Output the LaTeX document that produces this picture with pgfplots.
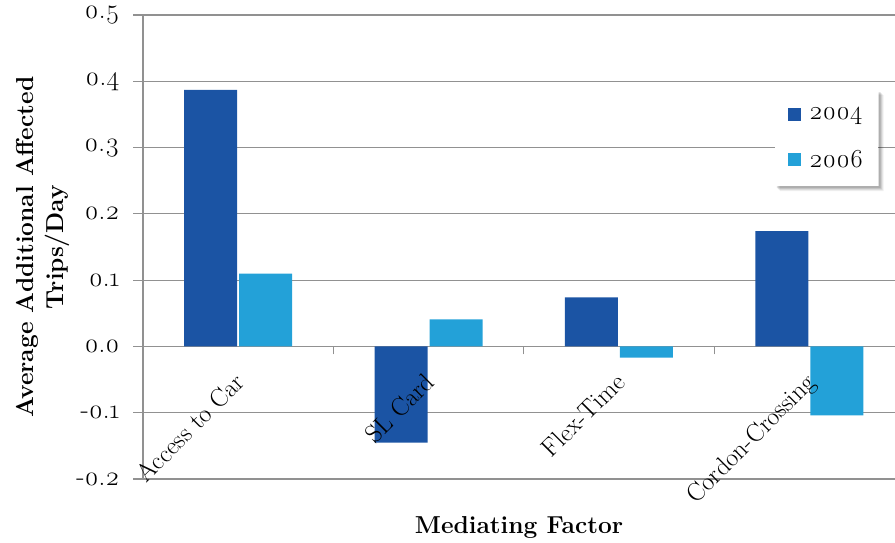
\documentclass[border=0pt]{standalone}
\usepackage{fontspec}
\setmainfont{Latin Modern Roman}[Numbers=OldStyle]
\usepackage{pgfplots}
\pgfplotsset{compat=1.18}

\definecolor{bar04}{RGB}{27,84,164}
\definecolor{bar06}{RGB}{35,161,216}
\definecolor{gridgray}{RGB}{145,145,145}

% category names are written over the bars
\pgfplotsset{
  layers/labels above bars/.define layer set={
    axis background,axis grid,axis ticks,axis lines,main,
    axis tick labels,axis descriptions,axis foreground
  }{
    grid style={/pgfplots/on layer=axis grid},
    tick style={/pgfplots/on layer=axis ticks},
    axis line style={/pgfplots/on layer=axis lines},
    label style={/pgfplots/on layer=axis descriptions},
    legend style={/pgfplots/on layer=axis descriptions},
    title style={/pgfplots/on layer=axis descriptions},
    ticklabel style={/pgfplots/on layer=axis tick labels},
    axis background@ style={/pgfplots/on layer=axis background},
    3d box foreground style={/pgfplots/on layer=axis foreground},
  },
}

\begin{document}
\begin{tikzpicture}
\begin{axis}[
  set layers=labels above bars,
  at={(143pt,63pt)}, anchor=south west,
  scale only axis, width=752pt, height=464pt,
  ybar=2pt, bar width=53pt,
  xmin=-0.5, xmax=3.45, ymin=-0.2, ymax=0.5,
  axis y line*=left, axis x line*=middle,
  axis line style={gridgray, line width=1.5pt},
  ytick={-0.2,-0.1,0,0.1,0.2,0.3,0.4,0.5},
  /pgf/number format/fixed, /pgf/number format/fixed zerofill,
  /pgf/number format/precision=1, /pgf/number format/assume math mode=true,
  yticklabel style={font=\fontsize{27}{27}\selectfont, xshift=-10pt, inner ysep=0pt},
  ymajorgrids, grid style={gridgray, line width=1.2pt},
  ytick align=outside, xtick align=outside,
  major tick length=10pt, minor tick length=8pt,
  tick style={gridgray, line width=1.2pt},
  xtick={0,1,2,3},
  xticklabels={Access to Car, SL Card, Flex-Time, Cordon-Crossing},
  major x tick style={draw=none},
  minor xtick={-0.5,0.5,1.5,2.5},
  xticklabel style={font=\fontsize{25.5}{25.5}\selectfont, xshift=-5pt, yshift=-10pt, rotate=45, anchor=north east},
  ylabel={Average Additional Affected\\Trips/Day},
  ylabel style={font=\bfseries\fontsize{24.5}{30}\selectfont, align=center,
    at={(axis description cs:-0.093,0.5)}, anchor=south},
  xlabel={Mediating Factor},
  xlabel style={font=\bfseries\fontsize{24.5}{30}\selectfont,
    at={(axis description cs:0.5,-0.1164)}, anchor=base},
  legend style={name=leg, at={(0.8404,0.838)}, anchor=north west, draw=none, fill=white,
    font=\fontsize{26}{26}\selectfont, inner xsep=13pt, inner ysep=15pt,
    /tikz/every odd column/.append style={column sep=6pt},
    row sep=25pt},
  legend cell align=left,
  legend image code/.code={\fill[#1] (0pt,-6.5pt) rectangle (13pt,6.5pt);},
]
\addplot[fill=bar04, draw=none] coordinates {(0,0.387) (1,-0.145) (2,0.074) (3,0.174)};
\addplot[fill=bar06, draw=none] coordinates {(0,0.110) (1,0.041) (2,-0.017) (3,-0.104)};
\legend{2004,2006}
\end{axis}
% soft shadow along the right and lower edges of the legend box
\foreach \s/\o in {5/0.06, 4/0.08, 3/0.10, 2/0.12} {
  \fill[black, opacity=\o]
    ([yshift=-\s pt]leg.north east) -- ([xshift=\s pt, yshift=-\s pt]leg.north east)
    -- ([xshift=\s pt, yshift=-\s pt]leg.south east) -- ([xshift=\s pt, yshift=-\s pt]leg.south west)
    -- ([xshift=\s pt]leg.south west) -- (leg.south east) -- cycle;
}
\pgfresetboundingbox
\path[use as bounding box] (0,0) rectangle (895pt,542pt);
\end{tikzpicture}
\end{document}
